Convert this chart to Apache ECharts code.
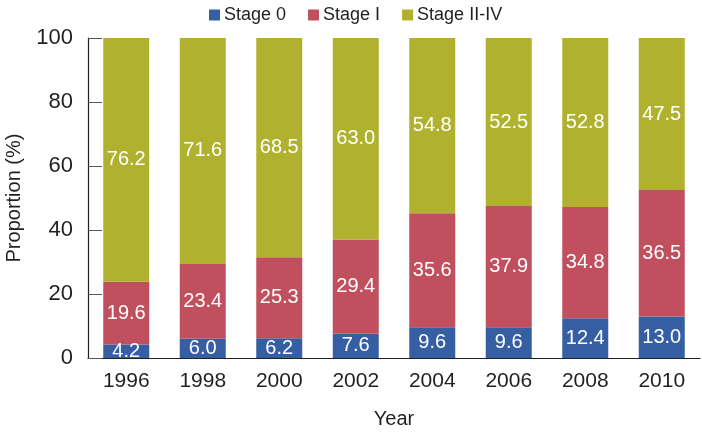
<!DOCTYPE html>
<html>
<head>
<meta charset="utf-8">
<script src="https://cdn.jsdelivr.net/npm/echarts@6/dist/echarts.min.js"></script>
<style>
html,body{margin:0;padding:0;background:#fff;}
#c{width:702px;height:432px;}
</style>
</head>
<body>
<div id="c"></div>
<script>
var years = ['1996','1998','2000','2002','2004','2006','2008','2010'];
// Printed values (labels)
var stage0 = [4.2, 6.0, 6.2, 7.6, 9.6, 9.6, 12.4, 13.0];
var stageI = [19.6, 23.4, 25.3, 29.4, 35.6, 37.9, 34.8, 36.5];
var stageIIIV = [76.2, 71.6, 68.5, 63.0, 54.8, 52.5, 52.8, 47.5];
// Drawn bar heights (2010 Stage I is drawn to fill to 100)
var stageIDrawn = [19.6, 23.4, 25.3, 29.4, 35.6, 37.9, 34.8, 39.5];
var yTicks = [0, 20, 40, 60, 80, 100];

var FONT = '"Liberation Sans", Arial, sans-serif';
var chart = echarts.init(document.getElementById('c'));

function lbl(arr){
  return {
    show: true, position: 'inside', color: '#fff', fontFamily: FONT, fontSize: 20,
    formatter: function(p){ return arr[p.dataIndex].toFixed(1); }
  };
}

chart.setOption({
  animation: false,
  textStyle: {fontFamily: FONT},
  legend: {
    top: 1, left: 204,
    itemWidth: 11, itemHeight: 11, itemGap: 22,
    icon: 'rect',
    textStyle: {fontFamily: FONT, fontSize: 18, color: '#231f20', padding: [0,0,0,-1]},
    data: ['Stage 0', 'Stage I', 'Stage II-IV']
  },
  grid: {left: 88, right: 2, top: 38, bottom: 74, containLabel: false, outerBoundsMode: 'none'},
  xAxis: {
    type: 'category', data: years,
    name: 'Year', nameLocation: 'middle', nameGap: 51,
    nameTextStyle: {fontFamily: FONT, fontSize: 20, color: '#231f20'},
    axisLine: {lineStyle: {color: '#231f20', width: 1.2}},
    axisTick: {inside: true, length: 14, lineStyle: {color: '#555'}},
    axisLabel: {fontFamily: FONT, fontSize: 21, color: '#231f20', margin: 13}
  },
  yAxis: {
    type: 'value', min: 0, max: 100, interval: 20,
    name: 'Proportion (%)', nameLocation: 'middle', nameGap: 64, nameRotate: 90,
    nameTextStyle: {fontFamily: FONT, fontSize: 20, color: '#231f20'},
    axisLine: {show: true, lineStyle: {color: '#231f20', width: 1.2}},
    axisTick: {show: true, inside: true, length: 14, lineStyle: {color: '#555'}},
    splitLine: {show: false},
    axisLabel: {fontFamily: FONT, fontSize: 22, color: '#231f20', margin: 15,
      formatter: function(v){ return yTicks.indexOf(v) >= 0 ? String(v) : ''; }}
  },
  series: [
    {name: 'Stage 0', type: 'bar', stack: 's', barWidth: 46, data: stage0,
      itemStyle: {color: '#355ea3'}, label: lbl(stage0)},
    {name: 'Stage I', type: 'bar', stack: 's', barWidth: 46, data: stageIDrawn,
      itemStyle: {color: '#c1505f'}, label: lbl(stageI)},
    {name: 'Stage II-IV', type: 'bar', stack: 's', barWidth: 46, data: stageIIIV,
      itemStyle: {color: '#b0b22f'}, label: lbl(stageIIIV)}
  ]
});
</script>
</body>
</html>
